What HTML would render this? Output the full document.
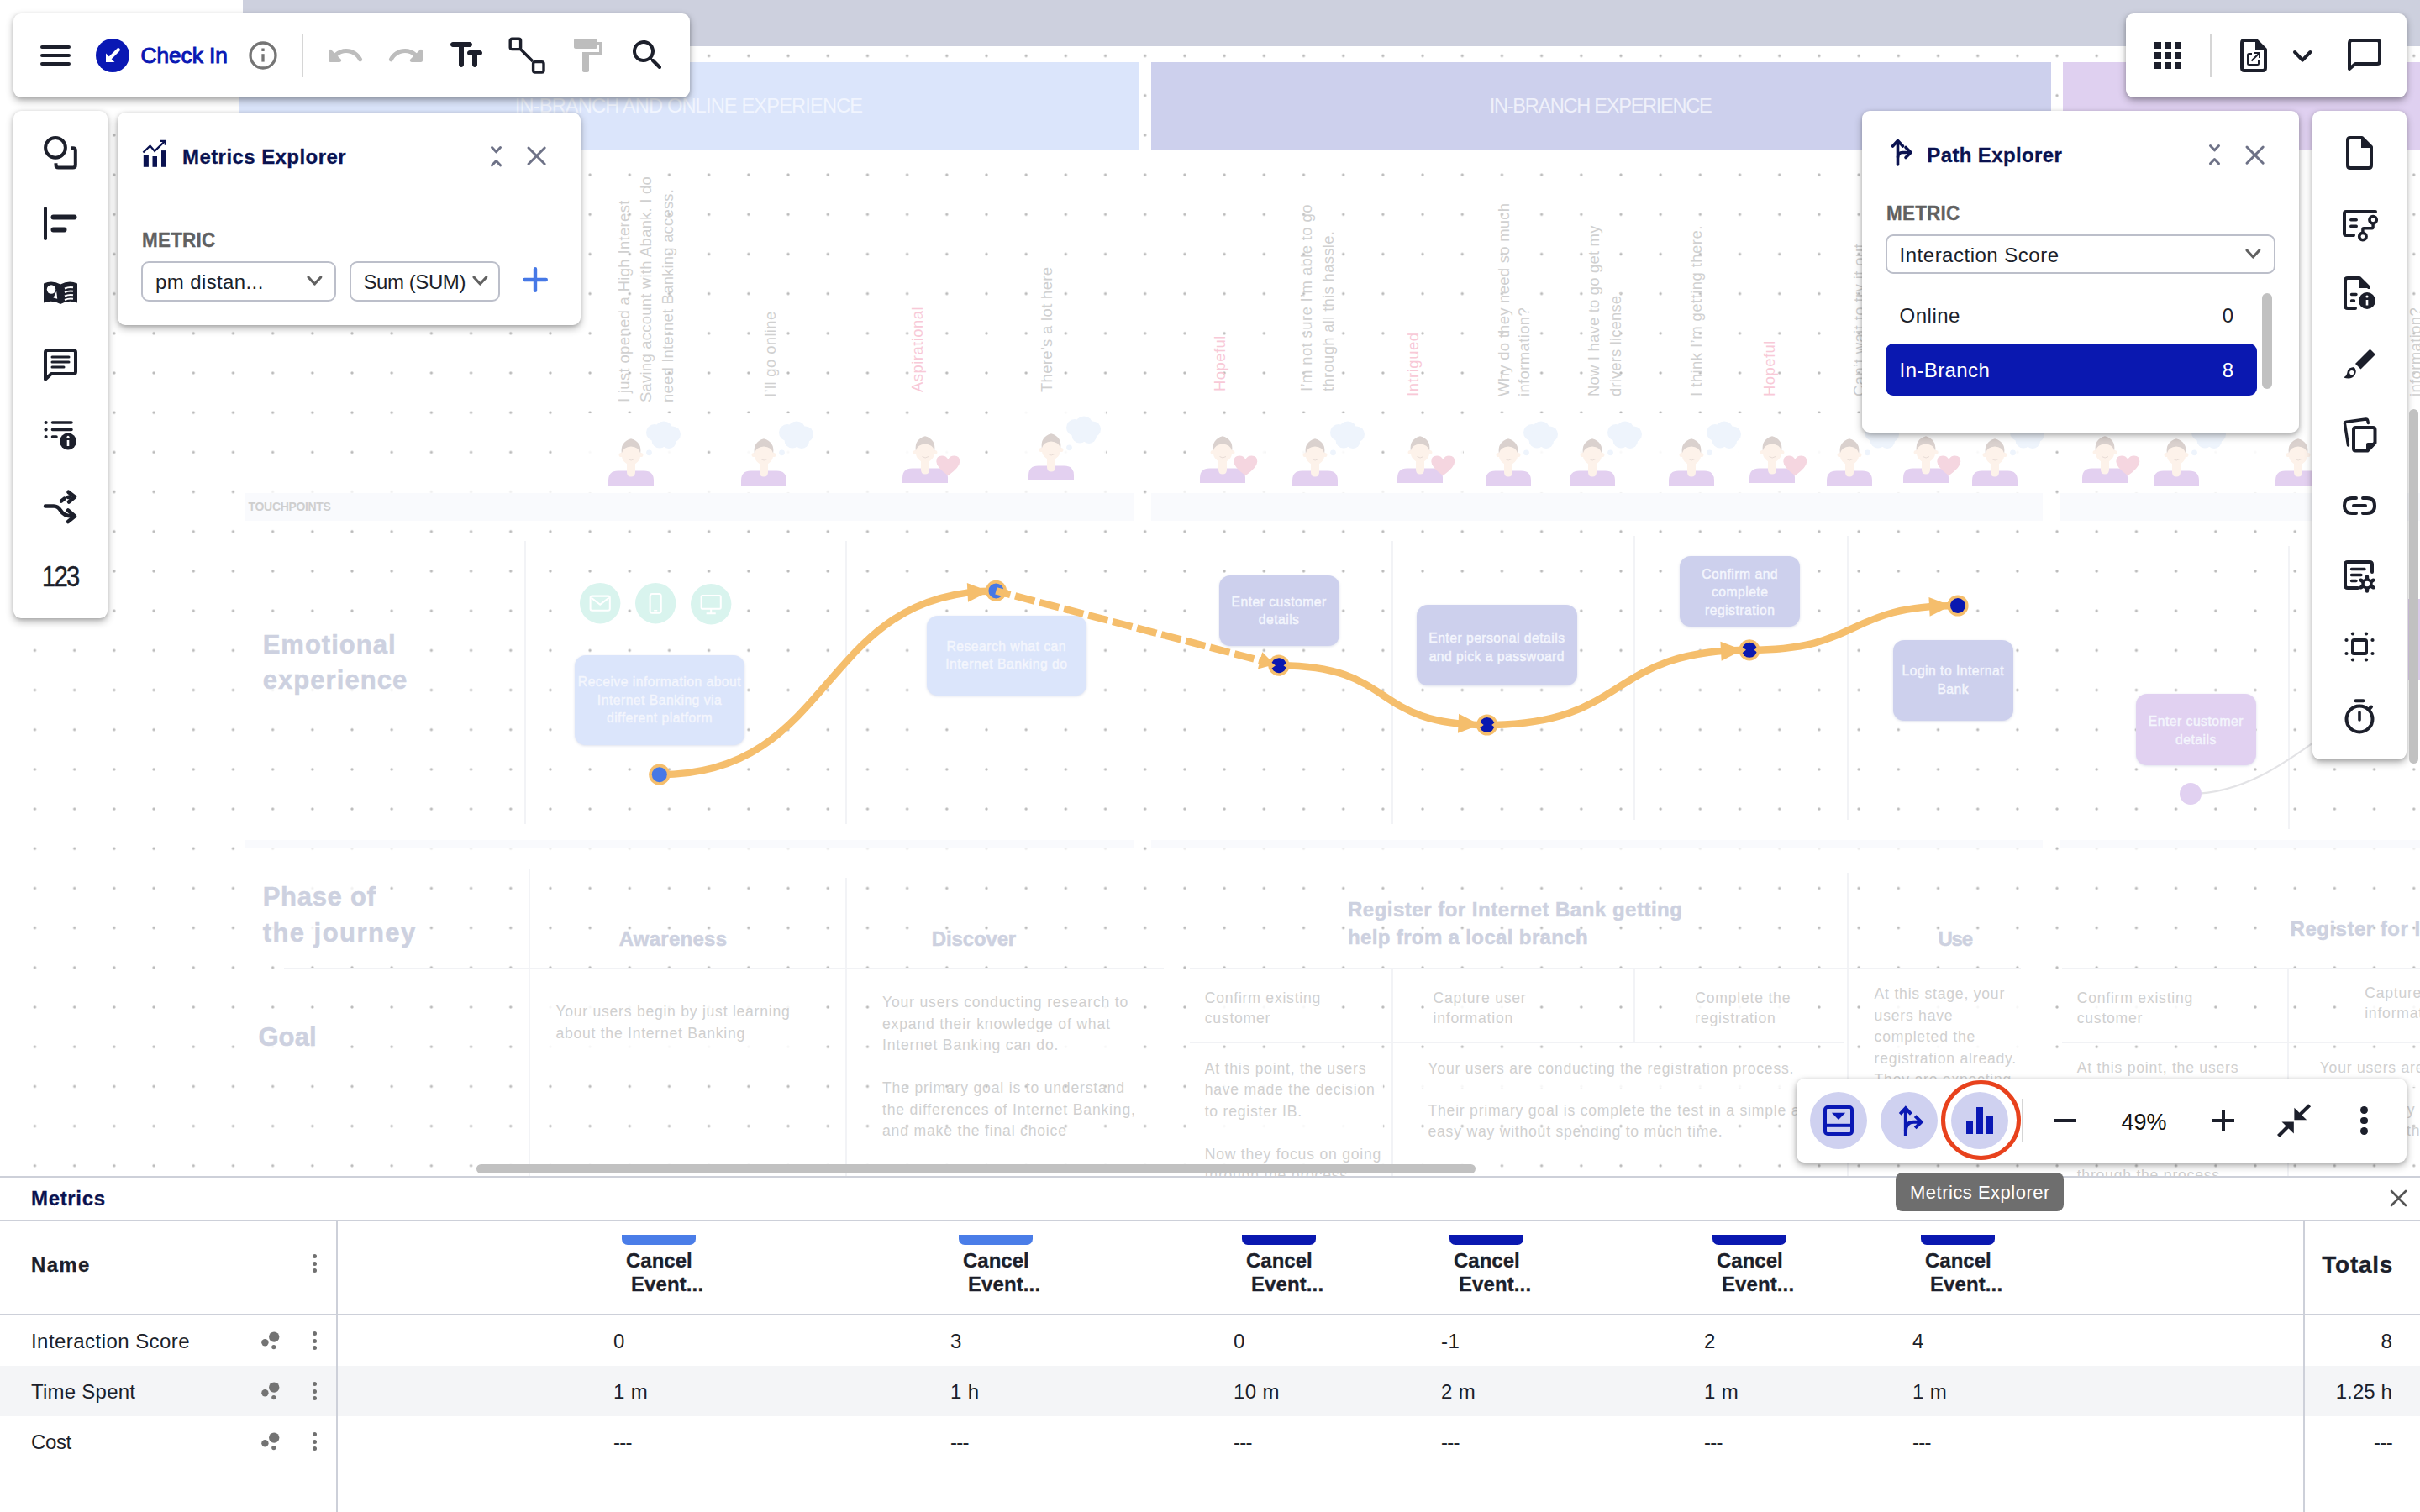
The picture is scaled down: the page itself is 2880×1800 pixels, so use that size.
<!DOCTYPE html><html lang="en"><head><meta charset="utf-8"><title>Journey Model</title><style>

*{box-sizing:border-box}
html,body{margin:0;padding:0}
@media (max-width:2000px){html{zoom:.5}}
body{width:2880px;height:1800px;overflow:hidden;background:#fff;position:relative;
 font-family:"Liberation Sans",sans-serif;color:#1c1f2b;-webkit-font-smoothing:antialiased}
.abs{position:absolute}
#canvas{position:absolute;left:0;top:0;width:2880px;height:1401px;overflow:hidden;background-color:#fff;
 background-image:radial-gradient(circle,#b9b9b9 0,#bcbcbc 1px,rgba(190,190,190,0) 2.2px);
 background-size:47.2px 47.2px;background-position:17.9px -4.25px}
.card{position:absolute;background:#fff;border-radius:9px;box-shadow:0 4px 10px rgba(0,0,0,.3),0 1px 4px rgba(0,0,0,.14)}
.t{position:absolute;white-space:nowrap;line-height:1}
.b{font-weight:700;-webkit-text-stroke:.3px currentColor}
svg{position:absolute;overflow:visible}
.sel{position:absolute;border:2px solid #bcbfca;border-radius:9px;background:#fff}
.cv{position:absolute;white-space:nowrap;line-height:1;color:#d9d9d9}
.box{position:absolute;border-radius:13px;color:#fff;text-align:center;font-weight:400;-webkit-text-stroke:.45px #f4f6fd;font-size:15.5px;line-height:22px;
 display:flex;align-items:center;justify-content:center;box-shadow:0 1px 3px rgba(120,130,180,.25)}
.vl{position:absolute;width:2px;background:#f2f3f6}
.hl{position:absolute;height:2px;background:#f1f2f5}
.big{position:absolute;font-weight:700;-webkit-text-stroke:.5px #cdd1e0;color:#cdd1e0;white-space:nowrap;line-height:1}
.para{position:absolute;color:#d0d0d0;font-size:16.5px;line-height:25.5px;white-space:nowrap}
.rot{position:absolute;transform-origin:0 0;transform:rotate(-90deg);white-space:nowrap;font-size:19.5px;line-height:26px;color:#d0d0d0}

</style></head><body>
<div id="canvas">
<div class="abs" style="left:289px;top:0;width:2600px;height:55px;background:#cdd0de"></div>
<div class="abs" style="left:285px;top:74px;width:1071px;height:104px;background:#dbe5fb"></div>
<div class="abs" style="left:1370px;top:74px;width:1071px;height:104px;background:#cdd0ed"></div>
<div class="abs" style="left:2455px;top:74px;width:500px;height:104px;background:#dfd0f0"></div>
<div class="abs" style="left:291px;top:587px;width:1059px;height:33px;background:#f9fafd"></div>
<div class="abs" style="left:291px;top:1000px;width:1059px;height:9px;background:#f9fafd"></div>
<div class="abs" style="left:291px;top:580px;width:1059px;height:7px;background:rgba(255,255,255,.78)"></div>
<div class="abs" style="left:291px;top:1009px;width:1059px;height:5px;background:rgba(255,255,255,.72)"></div>
<div class="abs" style="left:1370px;top:587px;width:1061px;height:33px;background:#f9fafd"></div>
<div class="abs" style="left:1370px;top:1000px;width:1061px;height:9px;background:#f9fafd"></div>
<div class="abs" style="left:1370px;top:580px;width:1061px;height:7px;background:rgba(255,255,255,.78)"></div>
<div class="abs" style="left:1370px;top:1009px;width:1061px;height:5px;background:rgba(255,255,255,.72)"></div>
<div class="abs" style="left:2451px;top:587px;width:500px;height:33px;background:#f9fafd"></div>
<div class="abs" style="left:2451px;top:1000px;width:500px;height:9px;background:#f9fafd"></div>
<div class="abs" style="left:2451px;top:580px;width:500px;height:7px;background:rgba(255,255,255,.78)"></div>
<div class="abs" style="left:2451px;top:1009px;width:500px;height:5px;background:rgba(255,255,255,.72)"></div>
<div id="c1" class="cv" style="left:295.6px;top:596.0px;font-size:14px;letter-spacing:-0.33px;font-weight:700;color:#cfcfcf">TOUCHPOINTS</div>
<div id="c2" class="cv" style="left:612.8px;top:114.9px;font-size:23.6px;letter-spacing:-0.83px;color:#f1f5fe">IN-BRANCH AND ONLINE EXPERIENCE</div>
<div id="c3" class="cv" style="left:1772.7px;top:114.9px;font-size:23.6px;letter-spacing:-1.30px;color:#eff0fa">IN-BRANCH EXPERIENCE</div>
<div id="c4" class="rot" style="left:730.3px;top:478.5px;font-size:18.5px;line-height:26px;letter-spacing:0.32px;">I just opened a High Interest</div>
<div id="c5" class="rot" style="left:756.3px;top:478.5px;font-size:18.5px;line-height:26px;letter-spacing:0.22px;">Saving account with Abank. I do</div>
<div id="c6" class="rot" style="left:782.3px;top:478.5px;font-size:18.5px;line-height:26px;letter-spacing:0.18px;">need Internet Banking access.</div>
<div id="c7" class="rot" style="left:904.4px;top:473px;font-size:18.5px;line-height:26px;letter-spacing:0.35px;">I’ll go online</div>
<div id="c8" class="rot" style="left:1079.4px;top:467px;font-size:18.5px;line-height:26px;letter-spacing:0.45px;color:#f8c9d7;">Aspirational</div>
<div id="c9" class="rot" style="left:1233.3px;top:467px;font-size:18.5px;line-height:26px;letter-spacing:0.32px;">There’s a lot here</div>
<div id="c10" class="rot" style="left:1439.2px;top:466.3px;font-size:18.5px;line-height:26px;letter-spacing:0.45px;color:#f8c9d7;">Hopeful</div>
<div id="c11" class="rot" style="left:1541.8px;top:466px;font-size:18.5px;line-height:26px;letter-spacing:0.37px;">I’m not sure I’m able to go</div>
<div id="c12" class="rot" style="left:1567.8px;top:466px;font-size:18.5px;line-height:26px;letter-spacing:0.30px;">through all this hassle.</div>
<div id="c13" class="rot" style="left:1668.8px;top:472px;font-size:18.5px;line-height:26px;letter-spacing:0.50px;color:#f8c9d7;">Intrigued</div>
<div id="c14" class="rot" style="left:1777.5px;top:472px;font-size:18.5px;line-height:24.5px;letter-spacing:0.26px;">Why do they need so much</div>
<div id="c15" class="rot" style="left:1802.0px;top:472px;font-size:18.5px;line-height:24.5px;letter-spacing:0.36px;">information?</div>
<div id="c16" class="rot" style="left:1883.8px;top:472px;font-size:18.5px;line-height:26px;letter-spacing:0.18px;">Now I have to go get my</div>
<div id="c17" class="rot" style="left:1909.8px;top:472px;font-size:18.5px;line-height:26px;letter-spacing:0.13px;">drivers license,</div>
<div id="c18" class="rot" style="left:2005.8px;top:472px;font-size:18.5px;line-height:26px;letter-spacing:0.44px;">I think I’m getting there.</div>
<div id="c19" class="rot" style="left:2092.8px;top:472px;font-size:18.5px;line-height:26px;letter-spacing:0.42px;color:#f8c9d7;">Hopeful</div>
<div id="c20" class="rot" style="left:2199.5px;top:472px;font-size:18.5px;line-height:26px;letter-spacing:0.39px;">Can’t wait to try it out</div>
<div id="c21" class="rot" style="left:2862.3px;top:472px;font-size:18.5px;line-height:26px;letter-spacing:0.36px;">information?</div>
<div class="abs" style="left:697.7px;top:491.5px;width:118px;height:94px;background:rgba(255,255,255,.9)"></div>
<div class="abs" style="left:856px;top:491.5px;width:118px;height:94px;background:rgba(255,255,255,.9)"></div>
<div class="abs" style="left:1061.7px;top:497.29999999999995px;width:90px;height:88px;background:rgba(255,255,255,.9)"></div>
<div class="abs" style="left:1198px;top:485.9px;width:118px;height:94px;background:rgba(255,255,255,.9)"></div>
<div class="abs" style="left:1415.6px;top:497.29999999999995px;width:90px;height:88px;background:rgba(255,255,255,.9)"></div>
<div class="abs" style="left:1511.7px;top:491.5px;width:118px;height:94px;background:rgba(255,255,255,.9)"></div>
<div class="abs" style="left:1651px;top:497.29999999999995px;width:90px;height:88px;background:rgba(255,255,255,.9)"></div>
<div class="abs" style="left:1741.5px;top:491.5px;width:118px;height:94px;background:rgba(255,255,255,.9)"></div>
<div class="abs" style="left:1841.5px;top:491.5px;width:118px;height:94px;background:rgba(255,255,255,.9)"></div>
<div class="abs" style="left:1959.7px;top:491.5px;width:118px;height:94px;background:rgba(255,255,255,.9)"></div>
<div class="abs" style="left:2070px;top:497.29999999999995px;width:90px;height:88px;background:rgba(255,255,255,.9)"></div>
<div class="abs" style="left:2148px;top:491.5px;width:118px;height:94px;background:rgba(255,255,255,.9)"></div>
<div class="abs" style="left:2253px;top:497.29999999999995px;width:90px;height:88px;background:rgba(255,255,255,.9)"></div>
<div class="abs" style="left:2320.6px;top:491.5px;width:118px;height:94px;background:rgba(255,255,255,.9)"></div>
<div class="abs" style="left:2465.5px;top:497.29999999999995px;width:90px;height:88px;background:rgba(255,255,255,.9)"></div>
<div class="abs" style="left:2536.9px;top:491.5px;width:118px;height:94px;background:rgba(255,255,255,.9)"></div>
<div class="abs" style="left:2681.7px;top:491.5px;width:118px;height:94px;background:rgba(255,255,255,.9)"></div>
<svg style="left:723.7px;top:521.5px" width="54" height="56" viewBox="0 0 54 56"><path d="M0 56V50Q0 38.5 11.5 38.5H42.5Q54 38.5 54 50V56Z" fill="#e3d0f0"/><path d="M22 24H32V40Q32 45.5 27 45.5Q22 45.5 22 40Z" fill="#fdf2ea"/><circle cx="15.2" cy="19.5" r="2.6" fill="#fdf2ea"/><circle cx="38.8" cy="19.5" r="2.6" fill="#fdf2ea"/><ellipse cx="27" cy="19" rx="11.3" ry="12.5" fill="#fdf2ea"/><path d="M15.8 17.5Q14 4 27 .3Q40 4 38.2 17.5Q36 10 27 9.5Q18 10 15.8 17.5Z" fill="#dad1ce"/><path d="M23.5 24.5Q27 27.5 31 24.5" fill="none" stroke="#e8dcd6" stroke-width="1"/><g fill="#eef4fc"><circle cx="55" cy="-7" r="10"/><circle cx="66" cy="-10" r="10.5"/><circle cx="76.5" cy="-5" r="9.500"/><circle cx="61" cy="2" r="9.5"/><circle cx="72" cy="3" r="9"/><circle cx="48.500" cy="16.8" r="3.4"/></g></svg>
<svg style="left:882px;top:521.5px" width="54" height="56" viewBox="0 0 54 56"><path d="M0 56V50Q0 38.5 11.5 38.5H42.5Q54 38.5 54 50V56Z" fill="#e3d0f0"/><path d="M22 24H32V40Q32 45.5 27 45.5Q22 45.5 22 40Z" fill="#fdf2ea"/><circle cx="15.2" cy="19.5" r="2.6" fill="#fdf2ea"/><circle cx="38.8" cy="19.5" r="2.6" fill="#fdf2ea"/><ellipse cx="27" cy="19" rx="11.3" ry="12.5" fill="#fdf2ea"/><path d="M15.8 17.5Q14 4 27 .3Q40 4 38.2 17.5Q36 10 27 9.5Q18 10 15.8 17.5Z" fill="#dad1ce"/><path d="M23.5 24.5Q27 27.5 31 24.5" fill="none" stroke="#e8dcd6" stroke-width="1"/><g fill="#eef4fc"><circle cx="55" cy="-7" r="10"/><circle cx="66" cy="-10" r="10.5"/><circle cx="76.5" cy="-5" r="9.500"/><circle cx="61" cy="2" r="9.5"/><circle cx="72" cy="3" r="9"/><circle cx="48.500" cy="16.8" r="3.4"/></g></svg>
<svg style="left:1073.7px;top:519.3px" width="54" height="56" viewBox="0 0 54 56"><path d="M0 56V50Q0 38.5 11.5 38.5H42.5Q54 38.5 54 50V56Z" fill="#e3d0f0"/><path d="M22 24H32V40Q32 45.5 27 45.5Q22 45.5 22 40Z" fill="#fdf2ea"/><circle cx="15.2" cy="19.5" r="2.6" fill="#fdf2ea"/><circle cx="38.8" cy="19.5" r="2.6" fill="#fdf2ea"/><ellipse cx="27" cy="19" rx="11.3" ry="12.5" fill="#fdf2ea"/><path d="M15.8 17.5Q14 4 27 .3Q40 4 38.2 17.5Q36 10 27 9.5Q18 10 15.8 17.5Z" fill="#dad1ce"/><path d="M23.5 24.5Q27 27.5 31 24.5" fill="none" stroke="#e8dcd6" stroke-width="1"/><path d="M54.3 46.5Q40.3 36.5 40.3 29.5Q40.3 22.600 47 22.6Q52 22.6 54.3 27Q56.600 22.6 61.6 22.6Q68.300 22.6 68.3 29.500Q68.3 36.5 54.3 46.500Z" fill="#f5d6e0" transform="translate(0 .8)"/></svg>
<svg style="left:1224px;top:515.9px" width="54" height="56" viewBox="0 0 54 56"><path d="M0 56V50Q0 38.5 11.5 38.5H42.5Q54 38.5 54 50V56Z" fill="#e3d0f0"/><path d="M22 24H32V40Q32 45.5 27 45.5Q22 45.5 22 40Z" fill="#fdf2ea"/><circle cx="15.2" cy="19.5" r="2.6" fill="#fdf2ea"/><circle cx="38.8" cy="19.5" r="2.6" fill="#fdf2ea"/><ellipse cx="27" cy="19" rx="11.3" ry="12.5" fill="#fdf2ea"/><path d="M15.8 17.5Q14 4 27 .3Q40 4 38.2 17.5Q36 10 27 9.5Q18 10 15.8 17.5Z" fill="#dad1ce"/><path d="M23.5 24.5Q27 27.5 31 24.5" fill="none" stroke="#e8dcd6" stroke-width="1"/><g fill="#eef4fc"><circle cx="55" cy="-7" r="10"/><circle cx="66" cy="-10" r="10.5"/><circle cx="76.5" cy="-5" r="9.500"/><circle cx="61" cy="2" r="9.5"/><circle cx="72" cy="3" r="9"/><circle cx="48.500" cy="16.8" r="3.4"/></g></svg>
<svg style="left:1427.6px;top:519.3px" width="54" height="56" viewBox="0 0 54 56"><path d="M0 56V50Q0 38.5 11.5 38.5H42.5Q54 38.5 54 50V56Z" fill="#e3d0f0"/><path d="M22 24H32V40Q32 45.5 27 45.5Q22 45.5 22 40Z" fill="#fdf2ea"/><circle cx="15.2" cy="19.5" r="2.6" fill="#fdf2ea"/><circle cx="38.8" cy="19.5" r="2.6" fill="#fdf2ea"/><ellipse cx="27" cy="19" rx="11.3" ry="12.5" fill="#fdf2ea"/><path d="M15.8 17.5Q14 4 27 .3Q40 4 38.2 17.5Q36 10 27 9.5Q18 10 15.8 17.5Z" fill="#dad1ce"/><path d="M23.5 24.5Q27 27.5 31 24.5" fill="none" stroke="#e8dcd6" stroke-width="1"/><path d="M54.3 46.5Q40.3 36.5 40.3 29.5Q40.3 22.600 47 22.6Q52 22.6 54.3 27Q56.600 22.6 61.6 22.6Q68.300 22.6 68.3 29.500Q68.3 36.5 54.3 46.500Z" fill="#f5d6e0" transform="translate(0 .8)"/></svg>
<svg style="left:1537.7px;top:521.5px" width="54" height="56" viewBox="0 0 54 56"><path d="M0 56V50Q0 38.5 11.5 38.5H42.5Q54 38.5 54 50V56Z" fill="#e3d0f0"/><path d="M22 24H32V40Q32 45.5 27 45.5Q22 45.5 22 40Z" fill="#fdf2ea"/><circle cx="15.2" cy="19.5" r="2.6" fill="#fdf2ea"/><circle cx="38.8" cy="19.5" r="2.6" fill="#fdf2ea"/><ellipse cx="27" cy="19" rx="11.3" ry="12.5" fill="#fdf2ea"/><path d="M15.8 17.5Q14 4 27 .3Q40 4 38.2 17.5Q36 10 27 9.5Q18 10 15.8 17.5Z" fill="#dad1ce"/><path d="M23.5 24.5Q27 27.5 31 24.5" fill="none" stroke="#e8dcd6" stroke-width="1"/><g fill="#eef4fc"><circle cx="55" cy="-7" r="10"/><circle cx="66" cy="-10" r="10.5"/><circle cx="76.5" cy="-5" r="9.500"/><circle cx="61" cy="2" r="9.5"/><circle cx="72" cy="3" r="9"/><circle cx="48.500" cy="16.8" r="3.4"/></g></svg>
<svg style="left:1663px;top:519.3px" width="54" height="56" viewBox="0 0 54 56"><path d="M0 56V50Q0 38.5 11.5 38.5H42.5Q54 38.5 54 50V56Z" fill="#e3d0f0"/><path d="M22 24H32V40Q32 45.5 27 45.5Q22 45.5 22 40Z" fill="#fdf2ea"/><circle cx="15.2" cy="19.5" r="2.6" fill="#fdf2ea"/><circle cx="38.8" cy="19.5" r="2.6" fill="#fdf2ea"/><ellipse cx="27" cy="19" rx="11.3" ry="12.5" fill="#fdf2ea"/><path d="M15.8 17.5Q14 4 27 .3Q40 4 38.2 17.5Q36 10 27 9.5Q18 10 15.8 17.5Z" fill="#dad1ce"/><path d="M23.5 24.5Q27 27.5 31 24.5" fill="none" stroke="#e8dcd6" stroke-width="1"/><path d="M54.3 46.5Q40.3 36.5 40.3 29.5Q40.3 22.600 47 22.6Q52 22.6 54.3 27Q56.600 22.6 61.6 22.6Q68.300 22.6 68.3 29.500Q68.3 36.5 54.3 46.500Z" fill="#f5d6e0" transform="translate(0 .8)"/></svg>
<svg style="left:1767.5px;top:521.5px" width="54" height="56" viewBox="0 0 54 56"><path d="M0 56V50Q0 38.5 11.5 38.5H42.5Q54 38.5 54 50V56Z" fill="#e3d0f0"/><path d="M22 24H32V40Q32 45.5 27 45.5Q22 45.5 22 40Z" fill="#fdf2ea"/><circle cx="15.2" cy="19.5" r="2.6" fill="#fdf2ea"/><circle cx="38.8" cy="19.5" r="2.6" fill="#fdf2ea"/><ellipse cx="27" cy="19" rx="11.3" ry="12.5" fill="#fdf2ea"/><path d="M15.8 17.5Q14 4 27 .3Q40 4 38.2 17.5Q36 10 27 9.5Q18 10 15.8 17.5Z" fill="#dad1ce"/><path d="M23.5 24.5Q27 27.5 31 24.5" fill="none" stroke="#e8dcd6" stroke-width="1"/><g fill="#eef4fc"><circle cx="55" cy="-7" r="10"/><circle cx="66" cy="-10" r="10.5"/><circle cx="76.5" cy="-5" r="9.500"/><circle cx="61" cy="2" r="9.5"/><circle cx="72" cy="3" r="9"/><circle cx="48.500" cy="16.8" r="3.4"/></g></svg>
<svg style="left:1867.5px;top:521.5px" width="54" height="56" viewBox="0 0 54 56"><path d="M0 56V50Q0 38.5 11.5 38.5H42.5Q54 38.5 54 50V56Z" fill="#e3d0f0"/><path d="M22 24H32V40Q32 45.5 27 45.5Q22 45.5 22 40Z" fill="#fdf2ea"/><circle cx="15.2" cy="19.5" r="2.6" fill="#fdf2ea"/><circle cx="38.8" cy="19.5" r="2.6" fill="#fdf2ea"/><ellipse cx="27" cy="19" rx="11.3" ry="12.5" fill="#fdf2ea"/><path d="M15.8 17.5Q14 4 27 .3Q40 4 38.2 17.5Q36 10 27 9.5Q18 10 15.8 17.5Z" fill="#dad1ce"/><path d="M23.5 24.5Q27 27.5 31 24.5" fill="none" stroke="#e8dcd6" stroke-width="1"/><g fill="#eef4fc"><circle cx="55" cy="-7" r="10"/><circle cx="66" cy="-10" r="10.5"/><circle cx="76.5" cy="-5" r="9.500"/><circle cx="61" cy="2" r="9.5"/><circle cx="72" cy="3" r="9"/><circle cx="48.500" cy="16.8" r="3.4"/></g></svg>
<svg style="left:1985.7px;top:521.5px" width="54" height="56" viewBox="0 0 54 56"><path d="M0 56V50Q0 38.5 11.5 38.5H42.5Q54 38.5 54 50V56Z" fill="#e3d0f0"/><path d="M22 24H32V40Q32 45.5 27 45.5Q22 45.5 22 40Z" fill="#fdf2ea"/><circle cx="15.2" cy="19.5" r="2.6" fill="#fdf2ea"/><circle cx="38.8" cy="19.5" r="2.6" fill="#fdf2ea"/><ellipse cx="27" cy="19" rx="11.3" ry="12.5" fill="#fdf2ea"/><path d="M15.8 17.5Q14 4 27 .3Q40 4 38.2 17.5Q36 10 27 9.5Q18 10 15.8 17.5Z" fill="#dad1ce"/><path d="M23.5 24.5Q27 27.5 31 24.5" fill="none" stroke="#e8dcd6" stroke-width="1"/><g fill="#eef4fc"><circle cx="55" cy="-7" r="10"/><circle cx="66" cy="-10" r="10.5"/><circle cx="76.5" cy="-5" r="9.500"/><circle cx="61" cy="2" r="9.5"/><circle cx="72" cy="3" r="9"/><circle cx="48.500" cy="16.8" r="3.4"/></g></svg>
<svg style="left:2082px;top:519.3px" width="54" height="56" viewBox="0 0 54 56"><path d="M0 56V50Q0 38.5 11.5 38.5H42.5Q54 38.5 54 50V56Z" fill="#e3d0f0"/><path d="M22 24H32V40Q32 45.5 27 45.5Q22 45.5 22 40Z" fill="#fdf2ea"/><circle cx="15.2" cy="19.5" r="2.6" fill="#fdf2ea"/><circle cx="38.8" cy="19.5" r="2.6" fill="#fdf2ea"/><ellipse cx="27" cy="19" rx="11.3" ry="12.5" fill="#fdf2ea"/><path d="M15.8 17.5Q14 4 27 .3Q40 4 38.2 17.5Q36 10 27 9.5Q18 10 15.8 17.5Z" fill="#dad1ce"/><path d="M23.5 24.5Q27 27.5 31 24.5" fill="none" stroke="#e8dcd6" stroke-width="1"/><path d="M54.3 46.5Q40.3 36.5 40.3 29.5Q40.3 22.600 47 22.6Q52 22.6 54.3 27Q56.600 22.6 61.6 22.6Q68.300 22.6 68.3 29.500Q68.3 36.5 54.3 46.500Z" fill="#f5d6e0" transform="translate(0 .8)"/></svg>
<svg style="left:2174px;top:521.5px" width="54" height="56" viewBox="0 0 54 56"><path d="M0 56V50Q0 38.5 11.5 38.5H42.5Q54 38.5 54 50V56Z" fill="#e3d0f0"/><path d="M22 24H32V40Q32 45.5 27 45.5Q22 45.5 22 40Z" fill="#fdf2ea"/><circle cx="15.2" cy="19.5" r="2.6" fill="#fdf2ea"/><circle cx="38.8" cy="19.5" r="2.6" fill="#fdf2ea"/><ellipse cx="27" cy="19" rx="11.3" ry="12.5" fill="#fdf2ea"/><path d="M15.8 17.5Q14 4 27 .3Q40 4 38.2 17.5Q36 10 27 9.5Q18 10 15.8 17.5Z" fill="#dad1ce"/><path d="M23.5 24.5Q27 27.5 31 24.5" fill="none" stroke="#e8dcd6" stroke-width="1"/><g fill="#eef4fc"><circle cx="55" cy="-7" r="10"/><circle cx="66" cy="-10" r="10.5"/><circle cx="76.5" cy="-5" r="9.500"/><circle cx="61" cy="2" r="9.5"/><circle cx="72" cy="3" r="9"/><circle cx="48.500" cy="16.8" r="3.4"/></g></svg>
<svg style="left:2265px;top:519.3px" width="54" height="56" viewBox="0 0 54 56"><path d="M0 56V50Q0 38.5 11.5 38.5H42.5Q54 38.5 54 50V56Z" fill="#e3d0f0"/><path d="M22 24H32V40Q32 45.5 27 45.5Q22 45.5 22 40Z" fill="#fdf2ea"/><circle cx="15.2" cy="19.5" r="2.6" fill="#fdf2ea"/><circle cx="38.8" cy="19.5" r="2.6" fill="#fdf2ea"/><ellipse cx="27" cy="19" rx="11.3" ry="12.5" fill="#fdf2ea"/><path d="M15.8 17.5Q14 4 27 .3Q40 4 38.2 17.5Q36 10 27 9.5Q18 10 15.8 17.5Z" fill="#dad1ce"/><path d="M23.5 24.5Q27 27.5 31 24.5" fill="none" stroke="#e8dcd6" stroke-width="1"/><path d="M54.3 46.5Q40.3 36.5 40.3 29.5Q40.3 22.600 47 22.6Q52 22.6 54.3 27Q56.600 22.6 61.6 22.6Q68.300 22.6 68.3 29.500Q68.3 36.5 54.3 46.500Z" fill="#f5d6e0" transform="translate(0 .8)"/></svg>
<svg style="left:2346.6px;top:521.5px" width="54" height="56" viewBox="0 0 54 56"><path d="M0 56V50Q0 38.5 11.5 38.5H42.5Q54 38.5 54 50V56Z" fill="#e3d0f0"/><path d="M22 24H32V40Q32 45.5 27 45.5Q22 45.5 22 40Z" fill="#fdf2ea"/><circle cx="15.2" cy="19.5" r="2.6" fill="#fdf2ea"/><circle cx="38.8" cy="19.5" r="2.6" fill="#fdf2ea"/><ellipse cx="27" cy="19" rx="11.3" ry="12.5" fill="#fdf2ea"/><path d="M15.8 17.5Q14 4 27 .3Q40 4 38.2 17.5Q36 10 27 9.5Q18 10 15.8 17.5Z" fill="#dad1ce"/><path d="M23.5 24.5Q27 27.5 31 24.5" fill="none" stroke="#e8dcd6" stroke-width="1"/><g fill="#eef4fc"><circle cx="55" cy="-7" r="10"/><circle cx="66" cy="-10" r="10.5"/><circle cx="76.5" cy="-5" r="9.500"/><circle cx="61" cy="2" r="9.5"/><circle cx="72" cy="3" r="9"/><circle cx="48.500" cy="16.8" r="3.4"/></g></svg>
<svg style="left:2477.5px;top:519.3px" width="54" height="56" viewBox="0 0 54 56"><path d="M0 56V50Q0 38.5 11.5 38.5H42.5Q54 38.5 54 50V56Z" fill="#e3d0f0"/><path d="M22 24H32V40Q32 45.5 27 45.5Q22 45.5 22 40Z" fill="#fdf2ea"/><circle cx="15.2" cy="19.5" r="2.6" fill="#fdf2ea"/><circle cx="38.8" cy="19.5" r="2.6" fill="#fdf2ea"/><ellipse cx="27" cy="19" rx="11.3" ry="12.5" fill="#fdf2ea"/><path d="M15.8 17.5Q14 4 27 .3Q40 4 38.2 17.5Q36 10 27 9.5Q18 10 15.8 17.5Z" fill="#dad1ce"/><path d="M23.5 24.5Q27 27.5 31 24.5" fill="none" stroke="#e8dcd6" stroke-width="1"/><path d="M54.3 46.5Q40.3 36.5 40.3 29.5Q40.3 22.600 47 22.6Q52 22.6 54.3 27Q56.600 22.6 61.6 22.6Q68.300 22.6 68.3 29.500Q68.3 36.5 54.3 46.500Z" fill="#f5d6e0" transform="translate(0 .8)"/></svg>
<svg style="left:2562.9px;top:521.5px" width="54" height="56" viewBox="0 0 54 56"><path d="M0 56V50Q0 38.5 11.5 38.5H42.5Q54 38.5 54 50V56Z" fill="#e3d0f0"/><path d="M22 24H32V40Q32 45.5 27 45.5Q22 45.5 22 40Z" fill="#fdf2ea"/><circle cx="15.2" cy="19.5" r="2.6" fill="#fdf2ea"/><circle cx="38.8" cy="19.5" r="2.6" fill="#fdf2ea"/><ellipse cx="27" cy="19" rx="11.3" ry="12.5" fill="#fdf2ea"/><path d="M15.8 17.5Q14 4 27 .3Q40 4 38.2 17.5Q36 10 27 9.5Q18 10 15.8 17.5Z" fill="#dad1ce"/><path d="M23.5 24.5Q27 27.5 31 24.5" fill="none" stroke="#e8dcd6" stroke-width="1"/><g fill="#eef4fc"><circle cx="55" cy="-7" r="10"/><circle cx="66" cy="-10" r="10.5"/><circle cx="76.5" cy="-5" r="9.500"/><circle cx="61" cy="2" r="9.5"/><circle cx="72" cy="3" r="9"/><circle cx="48.500" cy="16.8" r="3.4"/></g></svg>
<svg style="left:2707.7px;top:521.5px" width="54" height="56" viewBox="0 0 54 56"><path d="M0 56V50Q0 38.5 11.5 38.5H42.5Q54 38.5 54 50V56Z" fill="#e3d0f0"/><path d="M22 24H32V40Q32 45.5 27 45.5Q22 45.5 22 40Z" fill="#fdf2ea"/><circle cx="15.2" cy="19.5" r="2.6" fill="#fdf2ea"/><circle cx="38.8" cy="19.5" r="2.6" fill="#fdf2ea"/><ellipse cx="27" cy="19" rx="11.3" ry="12.5" fill="#fdf2ea"/><path d="M15.8 17.5Q14 4 27 .3Q40 4 38.2 17.5Q36 10 27 9.5Q18 10 15.8 17.5Z" fill="#dad1ce"/><path d="M23.5 24.5Q27 27.5 31 24.5" fill="none" stroke="#e8dcd6" stroke-width="1"/><g fill="#eef4fc"><circle cx="55" cy="-7" r="10"/><circle cx="66" cy="-10" r="10.5"/><circle cx="76.5" cy="-5" r="9.500"/><circle cx="61" cy="2" r="9.5"/><circle cx="72" cy="3" r="9"/><circle cx="48.500" cy="16.8" r="3.4"/></g></svg>
<div class="vl" style="left:624px;top:644px;height:337px"></div>
<div class="vl" style="left:1006px;top:644px;height:337px"></div>
<div class="vl" style="left:1656px;top:644px;height:337px"></div>
<div class="vl" style="left:1944px;top:638px;height:338px"></div>
<div class="vl" style="left:2198px;top:638px;height:338px"></div>
<div class="vl" style="left:2723px;top:650px;height:337px"></div>
<div class="vl" style="left:629px;top:1034px;height:367px"></div>
<div class="vl" style="left:1006px;top:1045px;height:356px"></div>
<div class="vl" style="left:2198px;top:1039px;height:362px"></div>
<div class="vl" style="left:1656px;top:1153px;height:248px"></div>
<div class="vl" style="left:1944px;top:1153px;height:88px"></div>
<div class="vl" style="left:2722px;top:1153px;height:248px"></div>
<div class="hl" style="left:338px;top:1152px;width:1047px"></div>
<div class="hl" style="left:1416px;top:1152px;width:989px"></div>
<div class="hl" style="left:2454px;top:1152px;width:426px"></div>
<div class="hl" style="left:1416px;top:1240px;width:778px"></div>
<div class="hl" style="left:2454px;top:1240px;width:426px"></div>
<div id="c22" class="big" style="left:312.7px;top:751.5px;font-size:31px;letter-spacing:1.00px;background:rgba(255,255,255,.8);box-shadow:0 0 0 6px rgba(255,255,255,.8)">Emotional</div>
<div id="c23" class="big" style="left:312.7px;top:794.1px;font-size:31px;letter-spacing:1.06px;background:rgba(255,255,255,.8);box-shadow:0 0 0 6px rgba(255,255,255,.8)">experience</div>
<div id="c24" class="big" style="left:312.7px;top:1051.8px;font-size:31px;letter-spacing:0.71px;background:rgba(255,255,255,.8);box-shadow:0 0 0 6px rgba(255,255,255,.8)">Phase of</div>
<div id="c25" class="big" style="left:312.7px;top:1095.2px;font-size:31px;letter-spacing:1.45px;background:rgba(255,255,255,.8);box-shadow:0 0 0 6px rgba(255,255,255,.8)">the journey</div>
<div id="c26" class="big" style="left:307.4px;top:1219.3px;font-size:31px;letter-spacing:0.10px;background:rgba(255,255,255,.88);box-shadow:0 0 0 12px rgba(255,255,255,.88)">Goal</div>
<div id="c27" class="big" style="left:736.7px;top:1105.9px;font-size:24px;letter-spacing:0.25px;">Awareness</div>
<div id="c28" class="big" style="left:1108.8px;top:1105.5px;font-size:24px;letter-spacing:-0.14px;">Discover</div>
<div id="c29" class="big" style="left:1604px;top:1071.3px;font-size:24px;letter-spacing:0.50px;">Register for Internet Bank getting</div>
<div id="c30" class="big" style="left:1604px;top:1103.7px;font-size:24px;letter-spacing:0.36px;">help from a local branch</div>
<div id="c31" class="big" style="left:2306.5px;top:1105.5px;font-size:24px;letter-spacing:-1.25px;">Use</div>
<div id="c32" class="big" style="left:2725.6px;top:1093.5px;font-size:24px;letter-spacing:0.50px;">Register for Internet Bank getting</div>
<svg style="left:690.0999999999999px;top:694.3px" width="48.4" height="48.4" viewBox="0 0 48 48"><circle cx="24" cy="24" r="24" fill="#d9f4ee"/><rect x="12.5" y="15.500" width="23" height="17" rx="2" fill="none" stroke="#fff" stroke-width="2"/><path d="M13.5 17.5L24 25.5L34.500 17.5" fill="none" stroke="#fff" stroke-width="2"/></svg>
<svg style="left:755.5px;top:694.3px" width="48.4" height="48.4" viewBox="0 0 48 48"><circle cx="24" cy="24" r="24" fill="#d9f4ee"/><rect x="17.5" y="13" width="13" height="22.5" rx="2.5" fill="none" stroke="#fff" stroke-width="2"/><path d="M22 32.500H26" stroke="#fff" stroke-width="1.600" fill="none"/></svg>
<svg style="left:821.8px;top:695.1999999999999px" width="48.4" height="48.4" viewBox="0 0 48 48"><circle cx="24" cy="24" r="24" fill="#d9f4ee"/><rect x="12.5" y="14" width="23" height="15.500" rx="1.5" fill="none" stroke="#fff" stroke-width="2"/><path d="M24 29.5V34M18.5 35H29.500" stroke="#fff" stroke-width="2" fill="none"/></svg>
<div class="box" style="left:684px;top:779.7px;width:202px;height:107.3px;background:#dbe5fb;font-size:15.7px;line-height:21.6px;letter-spacing:0.48px;color:#f4f6fd"><div style="position:relative;top:0px"><span id="c33s">Receive information about</span><br>Internet Banking via<br>different platform</div></div>
<div class="box" style="left:1103px;top:733px;width:189.5px;height:95px;background:#dbe5fb;font-size:15.7px;line-height:20.2px;letter-spacing:0.48px;color:#f4f6fd"><div style="position:relative;top:0px"><span id="c34s">Research what can</span><br>Internet Banking do</div></div>
<div class="box" style="left:1450.5px;top:685px;width:143.2px;height:84.4px;background:#cdd0ed;font-size:15.7px;line-height:21.6px;letter-spacing:0.48px;color:#f4f6fd"><div style="position:relative;top:0px"><span id="c35s">Enter customer</span><br>details</div></div>
<div class="box" style="left:1686px;top:720px;width:190.7px;height:96px;background:#cdd0ed;font-size:15.7px;line-height:21.6px;letter-spacing:0.48px;color:#f4f6fd"><div style="position:relative;top:2.5px"><span id="c36s">Enter personal details</span><br>and pick a passwoard</div></div>
<div class="box" style="left:1999.4px;top:661.5px;width:142.6px;height:84.1px;background:#cdd0ed;font-size:15.7px;line-height:21.6px;letter-spacing:0.48px;color:#f4f6fd"><div style="position:relative;top:1.7px"><span id="c37s">Confirm and</span><br>complete<br>registration</div></div>
<div class="box" style="left:2252.5px;top:762px;width:143.5px;height:96px;background:#cdd0ed;font-size:15.7px;line-height:21.6px;letter-spacing:0.48px;color:#f4f6fd"><div style="position:relative;top:0px"><span id="c38s">Login to Internat</span><br>Bank</div></div>
<div class="box" style="left:2541.8px;top:826px;width:143.2px;height:84.7px;background:#e1d1f1;font-size:15.7px;line-height:21.6px;letter-spacing:0.48px;color:#f4f6fd"><div style="position:relative;top:1.5px"><span id="c39s">Enter customer</span><br>details</div></div>
<div class="abs" style="left:2866px;top:713px;width:40px;height:97px;background:#dccbea"></div>
<svg style="left:0;top:0" width="2880" height="1400" viewBox="0 0 2880 1400"><path d="M784.8 922.2C997.1 922.2 973.1 703.4 1185.4 703.4M1522 792.2C1663.2 792.2 1628.5 863 1769.7 863M1769.7 863C1941.5 863 1910.2 773.8 2082 773.8M2082 773.8C2218.4 773.8 2193.6 721 2330 721" fill="none" stroke="#f5be6c" stroke-width="8.5"/><path d="M1185.4 703.4L1522 792.2" fill="none" stroke="#f5be6c" stroke-width="8.5" stroke-dasharray="24 6" stroke-dashoffset="6.5"/><path d="M0 0L-26 -11.500L-26 11.5Z" fill="#f5be6c" transform="translate(1177.4 704) rotate(-3)"/><path d="M0 0L-18 -10.500L-18 10.5Z" fill="#f5be6c" transform="translate(1517 790.9) rotate(14.7)"/><path d="M0 0L-26 -11.500L-26 11.5Z" fill="#f5be6c" transform="translate(1761.5 862.7) rotate(3)"/><path d="M0 0L-26 -11.500L-26 11.5Z" fill="#f5be6c" transform="translate(2074 773.8) rotate(-3)"/><path d="M0 0L-26 -11.500L-26 11.5Z" fill="#f5be6c" transform="translate(2322 721) rotate(-3)"/><circle cx="784.8" cy="922.2" r="12.6" fill="#f5be6c"/><circle cx="784.8" cy="922.2" r="9" fill="#4678e6"/><circle cx="1185.4" cy="703.4" r="12.6" fill="#f5be6c"/><circle cx="1185.4" cy="703.4" r="9" fill="#4678e6"/><path d="M1185.4 703.4L1198.9 706.9599999999999" stroke="#f5be6c" stroke-width="8.5" fill="none"/><circle cx="1522" cy="792.2" r="12.6" fill="#f5be6c"/><circle cx="1522" cy="792.2" r="9" fill="#0a18b0"/><path d="M1512 787.7L1518 792.2L1512 796.7Z" fill="#f5be6c"/><path d="M1532 788.7L1527.5 792.2L1532 795.7Z" fill="#f5be6c"/><circle cx="1769.7" cy="863" r="12.6" fill="#f5be6c"/><circle cx="1769.7" cy="863" r="9" fill="#0a18b0"/><path d="M1759.7 858.5L1765.7 863L1759.7 867.5Z" fill="#f5be6c"/><path d="M1779.7 859.5L1775.2 863L1779.7 866.5Z" fill="#f5be6c"/><circle cx="2082" cy="773.8" r="12.6" fill="#f5be6c"/><circle cx="2082" cy="773.8" r="9" fill="#0a18b0"/><path d="M2072 769.3L2078 773.8L2072 778.3Z" fill="#f5be6c"/><path d="M2092 770.3L2087.5 773.8L2092 777.3Z" fill="#f5be6c"/><circle cx="2330" cy="721" r="12.6" fill="#f5be6c"/><circle cx="2330" cy="721" r="9" fill="#0a18b0"/><path d="M2607 945C2670 945 2722 906.6 2762 877.6" fill="none" stroke="#e3e3e6" stroke-width="2"/><circle cx="2607" cy="945" r="13" fill="#e1d1f1"/></svg>
<div class="para" style="left:661.4px;top:1190.6px;font-size:17.6px;line-height:26.2px;letter-spacing:0.74px;"><span style="display:inline-block;background:rgba(255,255,255,.88);box-shadow:0 0 0 10px rgba(255,255,255,.88)"><span id="c40s">Your users begin by just learning</span><br>about the Internet Banking</span></div>
<div class="para" style="left:1050px;top:1181.2px;font-size:17.6px;line-height:25.5px;letter-spacing:0.81px;"><span style="display:inline-block;background:rgba(255,255,255,.88);box-shadow:0 0 0 10px rgba(255,255,255,.88)"><span id="c41s">Your users conducting research to</span><br>expand their knowledge of what<br>Internet Banking can do.</span><br>&nbsp;<br>The primary goal is to understand<br>the differences of Internet Banking,<br>and make the final choice</div>
<div class="para" style="left:1433.7px;top:1175.9px;font-size:17.6px;line-height:24px;letter-spacing:0.77px;"><span style="display:inline-block;background:rgba(255,255,255,.88);box-shadow:0 0 0 10px rgba(255,255,255,.88)"><span id="c42s">Confirm existing</span><br>customer</span></div>
<div class="para" style="left:1433.7px;top:1259.5px;font-size:17.6px;line-height:25.5px;letter-spacing:0.77px;"><span style="display:inline-block;background:rgba(255,255,255,.88);box-shadow:0 0 0 10px rgba(255,255,255,.88)"><span id="c43s">At this point, the users</span><br>have made the decision<br>to register IB.</span><br>&nbsp;<br>Now they focus on going<br>through the process</div>
<div class="para" style="left:1705.5px;top:1175.9px;font-size:17.6px;line-height:24px;letter-spacing:0.77px;"><span style="display:inline-block;background:rgba(255,255,255,.88);box-shadow:0 0 0 10px rgba(255,255,255,.88)"><span id="c44s">Capture user</span><br>information</span></div>
<div class="para" style="left:2017.3px;top:1175.9px;font-size:17.6px;line-height:24px;letter-spacing:0.77px;"><span style="display:inline-block;background:rgba(255,255,255,.88);box-shadow:0 0 0 10px rgba(255,255,255,.88)"><span id="c45s">Complete the</span><br>registration</span></div>
<div class="para" style="left:1699.5px;top:1259.7px;font-size:17.6px;line-height:25px;letter-spacing:0.77px;"><span style="display:inline-block;background:rgba(255,255,255,.88);box-shadow:0 0 0 10px rgba(255,255,255,.88)"><span id="c46s">Your users are conducting the registration process.</span></span><br>&nbsp;<br>Their primary goal is complete the test in a simple and<br>easy way without spending to much time.</div>
<div class="para" style="left:2230.6px;top:1171.4px;font-size:17.6px;line-height:25.5px;letter-spacing:0.77px;"><span style="display:inline-block;background:rgba(255,255,255,.88);box-shadow:0 0 0 10px rgba(255,255,255,.88)"><span id="c47s">At this stage, your</span><br>users have<br>completed the<br>registration already.<br>They are expecting<br>to be able to</span></div>
<div class="para" style="left:2471.7px;top:1175.9px;font-size:17.6px;line-height:24px;letter-spacing:0.77px;"><span style="display:inline-block;background:rgba(255,255,255,.88);box-shadow:0 0 0 10px rgba(255,255,255,.88)"><span id="c48s">Confirm existing</span><br>customer</span></div>
<div class="para" style="left:2471.7px;top:1259.2px;font-size:17.6px;line-height:25.5px;letter-spacing:0.77px;"><span style="display:inline-block;background:rgba(255,255,255,.88);box-shadow:0 0 0 10px rgba(255,255,255,.88)"><span id="c49s">At this point, the users</span><br>have made the decision<br>to register IB.</span><br>&nbsp;<br>Now they focus on going<br>through the process</div>
<div class="para" style="left:2814.2px;top:1170.4px;font-size:17.6px;line-height:24px;letter-spacing:0.77px;"><span style="display:inline-block;background:rgba(255,255,255,.88);box-shadow:0 0 0 10px rgba(255,255,255,.88)"><span id="c50s">Capture user</span><br>information</span></div>
<div class="para" style="left:2760.7px;top:1259.4px;font-size:17.6px;line-height:25px;letter-spacing:0.77px;"><span style="display:inline-block;background:rgba(255,255,255,.88);box-shadow:0 0 0 10px rgba(255,255,255,.88)"><span id="c51s">Your users are conducting the registration process.</span></span><br>&nbsp;<br>Their primary goal is complete the test in a simple and<br>easy way without spending to much time.</div>
</div>
<div class="card" style="left:16px;top:16px;width:805px;height:100px"></div>
<svg style="left:42px;top:42px" width="48" height="48" viewBox="0 0 48 48" ><path d="M8 14H40M8 24H40M8 34H40" stroke="#1c1f2b" stroke-width="4" stroke-linecap="round" fill="none"/></svg>
<svg style="left:114px;top:46px" width="40" height="40" viewBox="0 0 40 40" ><circle cx="20" cy="20" r="20" fill="#0a18b4"/><path d="M26.800 13.2L15 25" stroke="#fff" stroke-width="4.2" stroke-linecap="round" fill="none"/><path d="M12 17.600V28H22.400Z" fill="#fff"/></svg>
<div class="t" style="left:167.5px;top:52.6px;font-size:26.2px;color:#0a18b4;letter-spacing:0;-webkit-text-stroke:1.05px #0a18b4">Check In</div>
<svg style="left:296px;top:49px" width="34" height="34" viewBox="0 0 34 34" ><circle cx="17" cy="17" r="15" fill="none" stroke="#757575" stroke-width="3.3"/><path d="M17 15.2V24.6" stroke="#757575" stroke-width="3.3" fill="none"/><rect x="15.35" y="8.5" width="3.3" height="3.500" fill="#757575"/></svg>
<div class="abs" style="left:359px;top:40px;width:2px;height:52px;background:#d6d6d6"></div>
<svg style="left:387px;top:42px" width="48" height="48" viewBox="0 0 24 24" ><path d="M12.5 8c-2.65 0-5.05.99-6.9 2.6L3.71 8.71C3.08 8.08 2 8.52 2 9.41V15c0 .55.45 1 1 1h5.59c.89 0 1.34-1.08.71-1.71l-1.91-1.91c1.39-1.16 3.16-1.88 5.12-1.88 3.16 0 5.89 1.84 7.19 4.5.27.56.91.84 1.5.64.71-.23 1.07-1.04.75-1.72C20.23 10.42 16.65 8 12.5 8z" fill="#bdbdbd"/></svg>
<svg style="left:459px;top:42px" width="48" height="48" viewBox="0 0 24 24" ><path d="M12.5 8c-2.65 0-5.05.99-6.9 2.6L3.71 8.71C3.08 8.08 2 8.52 2 9.41V15c0 .55.45 1 1 1h5.59c.89 0 1.34-1.08.71-1.71l-1.91-1.91c1.39-1.16 3.16-1.88 5.12-1.88 3.16 0 5.89 1.84 7.19 4.5.27.56.91.84 1.5.64.71-.23 1.07-1.04.75-1.72C20.23 10.42 16.65 8 12.5 8z" fill="#bdbdbd" transform="translate(24 0) scale(-1 1)"/></svg>
<svg style="left:531px;top:42px" width="48" height="48" viewBox="0 0 24 24" ><path d="M2.5 5.5C2.5 6.33 3.17 7 4 7h3.5v10.5c0 .83.67 1.5 1.5 1.5s1.5-.67 1.5-1.5V7H14c.83 0 1.5-.67 1.5-1.5S14.83 4 14 4H4c-.83 0-1.5.67-1.5 1.5zM20 9h-6c-.83 0-1.5.67-1.5 1.5S13.17 12 14 12h1.5v5.5c0 .83.67 1.5 1.5 1.5s1.5-.67 1.5-1.5V12H20c.83 0 1.5-.67 1.5-1.5S20.83 9 20 9z" fill="#1c1f2b"/></svg>
<svg style="left:603px;top:42px" width="48" height="48" viewBox="0 0 48 48" ><rect x="4.2" y="4.2" width="12.4" height="12.4" rx="2.2" fill="none" stroke="#1c1f2b" stroke-width="3.4"/><rect x="31.6" y="31.6" width="12.4" height="12.4" rx="2.2" fill="none" stroke="#1c1f2b" stroke-width="3.4"/><path d="M17 17L31 31" stroke="#1c1f2b" stroke-width="3.6" fill="none"/></svg>
<svg style="left:675px;top:42px" width="48" height="48" viewBox="0 0 24 24" ><path d="M18 4V3c0-.55-.45-1-1-1H5c-.55 0-1 .45-1 1v4c0 .55.45 1 1 1h12c.55 0 1-.45 1-1V6h1v4H9v11c0 .55.45 1 1 1h2c.55 0 1-.45 1-1v-9h8V4h-3z" fill="#bdbdbd"/></svg>
<svg style="left:747px;top:42px" width="48" height="48" viewBox="0 0 24 24" ><path d="M15.5 14h-.79l-.28-.27c1.2-1.4 1.82-3.31 1.48-5.34-.47-2.78-2.79-5-5.59-5.34-4.23-.52-7.79 3.04-7.27 7.27.34 2.8 2.56 5.12 5.34 5.59 2.03.34 3.94-.28 5.34-1.48l.27.28v.79l4.25 4.25c.41.41 1.08.41 1.49 0 .41-.41.41-1.08 0-1.49L15.5 14zm-6 0C7.01 14 5 11.99 5 9.5S7.01 5 9.5 5 14 7.01 14 9.5 11.99 14 9.5 14z" fill="#1c1f2b"/></svg>
<div class="card" style="left:16px;top:132px;width:112px;height:604px"></div>
<svg style="left:52px;top:162px" width="40" height="40" viewBox="0 0 40 40" ><circle cx="14" cy="13.8" r="11.9" fill="none" stroke="#1c1f2b" stroke-width="4"/><path d="M32.3 14.3H34.8Q37.8 14.3 37.8 17.3V34.6Q37.8 37.6 34.8 37.6H17.5Q14.5 37.6 14.5 34.6V32.2" fill="none" stroke="#1c1f2b" stroke-width="4"/></svg>
<svg style="left:52px;top:246px" width="40" height="40" viewBox="0 0 40 40" ><path d="M2 2V38" fill="none" stroke="#1c1f2b" stroke-width="4" stroke-linecap="round" stroke-linejoin="round"/><path d="M11.5 12.5H36.5M11.5 27.5H24.500" fill="none" stroke="#1c1f2b" stroke-width="6" stroke-linecap="round"/></svg>
<svg style="left:51px;top:334px" width="42" height="30" viewBox="0 0 42 30" ><path d="M1 3.5Q11 -1 21 4.5Q31 -1 41 3.5V26.5Q31 22.5 21 28Q11 22.5 1 26.5Z" fill="#1c1f2b"/><circle cx="10" cy="10.5" r="5.2" fill="#fff"/><path d="M12.5 20.5L16.2 12.8L17.2 21.8Z" fill="#fff"/><path d="M26 9.5Q31 7.3 36 8.2M26 14Q31 11.8 36 12.7M26 18.5Q31 16.3 36 17.2M26 23Q31 20.8 36 21.7" stroke="#fff" stroke-width="2" fill="none"/></svg>
<svg style="left:52px;top:415px" width="40" height="38" viewBox="0 0 40 38" ><path d="M4.5 2H35.5Q38 2 38 4.5V27.5Q38 30 35.5 30H9L2 36.5V4.5Q2 2 4.5 2Z" fill="none" stroke="#1c1f2b" stroke-width="4" stroke-linecap="round" stroke-linejoin="round"/><path d="M10 10H30M10 16H30M10 22H24" stroke="#1c1f2b" stroke-width="3" stroke-linecap="round" fill="none"/></svg>
<svg style="left:52px;top:500px" width="40" height="36" viewBox="0 0 40 36" ><path d="M10.5 3H33M10.5 11.5H33M10.5 20H15" stroke="#1c1f2b" stroke-width="3.6" stroke-linecap="round" fill="none"/><circle cx="2.6" cy="3" r="2.1" fill="#1c1f2b"/><circle cx="2.6" cy="11.5" r="2.1" fill="#1c1f2b"/><circle cx="2.6" cy="20" r="2.1" fill="#1c1f2b"/><circle cx="29" cy="25.5" r="10" fill="#1c1f2b"/><path d="M29 24V31" stroke="#fff" stroke-width="2.6" fill="none"/><circle cx="29" cy="20.3" r="1.5" fill="#fff"/></svg>
<svg style="left:52px;top:584px" width="40" height="36" viewBox="0 0 40 36" ><path d="M2 18.5H12Q17 18.5 20 23.5Q24 30.5 34 30.5" fill="none" stroke="#1c1f2b" stroke-width="4.400" stroke-linecap="round"/><path d="M29 23.5L37 30.5L29 37" fill="none" stroke="#1c1f2b" stroke-width="4.6" stroke-linecap="round" stroke-linejoin="round"/><path d="M21 12.500L24.5 9.8M29 8L31 7.5" fill="none" stroke="#1c1f2b" stroke-width="4.6" stroke-linecap="round"/><path d="M29.5 1.800L37 7.5L30 13.6" fill="none" stroke="#1c1f2b" stroke-width="4.600" stroke-linecap="round" stroke-linejoin="round"/></svg>
<div class="t" style="left:50px;top:669.4px;font-size:34.5px;letter-spacing:-2px;color:#1c1f2b;transform-origin:0 0;transform:scaleX(.845);-webkit-text-stroke:.5px #1c1f2b">123</div>
<div class="card" style="left:140px;top:134px;width:551px;height:253px"></div>
<svg style="left:170px;top:167px" width="28" height="32" viewBox="0 0 28 32" ><rect x=".8" y="17.7" width="6.1" height="14.1" fill="#0a1250"/><rect x="11.500" y="19" width="5.5" height="12.8" fill="#0a1250"/><rect x="22" y="12.1" width="5" height="19.7" fill="#0a1250"/><path d="M.4 14.5L8.600 6.600L14 12.8L25.9 1.4" stroke="#0a1250" stroke-width="2.2" fill="none"/><path d="M20.9 .8H26.8V5.800" stroke="#0a1250" stroke-width="2.200" fill="none"/></svg>
<div class="t b" style="left:217px;top:175px;font-size:24px;color:#0a1250;letter-spacing:.43px">Metrics Explorer</div>
<svg style="left:584.4px;top:173.5px" width="13" height="24.3" viewBox="0 0 13 24.3" ><path d="M1.5 1.5L6.5 6.8L11.5 1.5M1.5 22.8L6.5 17.5L11.5 22.8" fill="none" stroke="#6e7287" stroke-width="3" stroke-linecap="round" stroke-linejoin="round"/></svg>
<svg style="left:629.4px;top:176.3px" width="19.2" height="19.2" viewBox="0 0 19.2 19.2" ><path d="M0 0L19.2 19.2M19.2 0L0 19.2" fill="none" stroke="#6e7287" stroke-width="3" stroke-linecap="round"/></svg>
<div class="t b" style="left:169px;top:276.3px;font-size:22.5px;color:#616161;letter-spacing:.2px;transform-origin:0 100%;transform:scaleY(1.07)">METRIC</div>
<div class="sel" style="left:168px;top:311.3px;width:232px;height:47.6px"></div>
<div class="t" style="left:185px;top:323.9px;font-size:24px;letter-spacing:.39px">pm distan...</div>
<svg style="left:366.5px;top:330.3px" width="14.8" height="8" viewBox="0 0 14.8 8" ><path d="M0 0L7.4 8L14.8 0" fill="none" stroke="#616161" stroke-width="3.2" stroke-linecap="round" stroke-linejoin="round"/></svg>
<div class="sel" style="left:416px;top:311.3px;width:179px;height:47.6px"></div>
<div class="t" style="left:432.4px;top:323.9px;font-size:24px;letter-spacing:-.41px">Sum (SUM)</div>
<svg style="left:563.7px;top:330.3px" width="14.8" height="8" viewBox="0 0 14.8 8" ><path d="M0 0L7.4 8L14.8 0" fill="none" stroke="#616161" stroke-width="3.2" stroke-linecap="round" stroke-linejoin="round"/></svg>
<svg style="left:622px;top:318.4px" width="30" height="30" viewBox="0 0 30 30" ><path d="M15 2.2V27.8M2.2 15H27.8" stroke="#4678e6" stroke-width="4.4" stroke-linecap="round" fill="none"/></svg>
<div class="card" style="left:2530px;top:16px;width:334px;height:100px"></div>
<svg style="left:2564px;top:50px" width="32" height="32" viewBox="0 0 32 32" ><rect x="0" y="0" width="8" height="8" fill="#1c1f2b"/><rect x="12" y="0" width="8" height="8" fill="#1c1f2b"/><rect x="24" y="0" width="8" height="8" fill="#1c1f2b"/><rect x="0" y="12" width="8" height="8" fill="#1c1f2b"/><rect x="12" y="12" width="8" height="8" fill="#1c1f2b"/><rect x="24" y="12" width="8" height="8" fill="#1c1f2b"/><rect x="0" y="24" width="8" height="8" fill="#1c1f2b"/><rect x="12" y="24" width="8" height="8" fill="#1c1f2b"/><rect x="24" y="24" width="8" height="8" fill="#1c1f2b"/></svg>
<div class="abs" style="left:2630px;top:40px;width:2px;height:52px;background:#d6d6d6"></div>
<svg style="left:2666px;top:46px" width="32" height="40" viewBox="0 0 32 40" ><path d="M5 2H19L30 13V35Q30 38 27 38H5Q2 38 2 35V5Q2 2 5 2Z" fill="none" stroke="#1c1f2b" stroke-width="4" stroke-linecap="round" stroke-linejoin="round"/><path d="M18 2.5L29.5 14H18Z" fill="#1c1f2b"/><path d="M14 18H10.5Q9 18 9 19.5V29.5Q9 31 10.5 31H20.5Q22 31 22 29.5V26" fill="none" stroke="#1c1f2b" stroke-width="2" /><path d="M13.5 26.5L22.5 17.5M17 17H23V23" fill="none" stroke="#1c1f2b" stroke-width="2"/></svg>
<svg style="left:2730.8px;top:61.7px" width="18.4" height="9.6" viewBox="0 0 18.4 9.6" ><path d="M0 0L9.2 9.6L18.4 0" fill="none" stroke="#1c1f2b" stroke-width="4" stroke-linecap="round" stroke-linejoin="round"/></svg>
<svg style="left:2794px;top:46px" width="40" height="38" viewBox="0 0 40 38" ><path d="M5 2H35Q38 2 38 5V27Q38 30 35 30H9L2 36V5Q2 2 5 2Z" fill="none" stroke="#1c1f2b" stroke-width="4" stroke-linecap="round" stroke-linejoin="round"/></svg>
<div class="card" style="left:2216px;top:132px;width:520px;height:383px"></div>
<svg style="left:2251px;top:165px" width="26" height="33" viewBox="0 0 26 33" ><path d="M7.5 31V4M1.5 9L7.5 2.5L13.5 9" fill="none" stroke="#0a1250" stroke-width="3.6" stroke-linecap="round" stroke-linejoin="round"/><path d="M7.5 22Q8 16.5 13 16.5H22M17 10.5L23 16.5L17 22.5" fill="none" stroke="#0a1250" stroke-width="3.6" stroke-linecap="round" stroke-linejoin="round"/></svg>
<div class="t b" style="left:2293.3px;top:173px;font-size:24px;color:#0a1250;letter-spacing:.38px">Path Explorer</div>
<svg style="left:2629.4px;top:172px" width="13" height="24.3" viewBox="0 0 13 24.3" ><path d="M1.5 1.5L6.5 6.8L11.5 1.5M1.5 22.8L6.5 17.5L11.5 22.8" fill="none" stroke="#6e7287" stroke-width="3" stroke-linecap="round" stroke-linejoin="round"/></svg>
<svg style="left:2674.1px;top:174.6px" width="19.2" height="19.2" viewBox="0 0 19.2 19.2" ><path d="M0 0L19.2 19.2M19.2 0L0 19.2" fill="none" stroke="#6e7287" stroke-width="3" stroke-linecap="round"/></svg>
<div class="t b" style="left:2245px;top:244.2px;font-size:22.5px;color:#616161;letter-spacing:.2px;transform-origin:0 100%;transform:scaleY(1.07)">METRIC</div>
<div class="sel" style="left:2244px;top:279.3px;width:464px;height:47px"></div>
<div class="t" style="left:2260.6px;top:291.9px;font-size:24px;letter-spacing:.5px">Interaction Score</div>
<svg style="left:2674.4px;top:297.6px" width="14.8" height="8" viewBox="0 0 14.8 8" ><path d="M0 0L7.4 8L14.8 0" fill="none" stroke="#616161" stroke-width="3.2" stroke-linecap="round" stroke-linejoin="round"/></svg>
<div class="t" style="left:2260.6px;top:363.7px;font-size:24px;letter-spacing:.5px">Online</div>
<div class="t" style="left:2600px;width:58px;text-align:right;top:363.7px;font-size:24px">0</div>
<div class="abs" style="left:2244px;top:409px;width:442px;height:62px;border-radius:9px;background:#0a18b0"></div>
<div class="t" style="left:2260.6px;top:428.6px;font-size:24px;letter-spacing:.39px;color:#fff">In-Branch</div>
<div class="t" style="left:2600px;width:58px;text-align:right;top:428.600px;font-size:24px;color:#fff">8</div>
<div class="abs" style="left:2692px;top:349px;width:12px;height:114px;border-radius:6px;background:#c1c1c1"></div>
<div class="card" style="left:2752px;top:132px;width:112px;height:772px"></div>
<svg style="left:2792px;top:162px" width="32" height="40" viewBox="0 0 32 40" ><path d="M5 2H19L30 13V35Q30 38 27 38H5Q2 38 2 35V5Q2 2 5 2Z" fill="none" stroke="#1c1f2b" stroke-width="4" stroke-linecap="round" stroke-linejoin="round"/><path d="M18 2.5L29.5 14H18Z" fill="#1c1f2b"/></svg>
<svg style="left:2788px;top:250px" width="42" height="38" viewBox="0 0 42 38" ><path d="M39 2H4Q2 2 2 4V28Q2 30 4 30H13" fill="none" stroke="#1c1f2b" stroke-width="4" stroke-linecap="round" stroke-linejoin="round"/><path d="M9.800 11.800H16.2M9.8 19.400H16.2" fill="none" stroke="#1c1f2b" stroke-width="3.6" stroke-linecap="round" stroke-linejoin="round"/><circle cx="36.100" cy="11.8" r="4.2" fill="none" stroke="#1c1f2b" stroke-width="3.6" stroke-linecap="round" stroke-linejoin="round"/><circle cx="23.900" cy="31.6" r="4.200" fill="none" stroke="#1c1f2b" stroke-width="3.6" stroke-linecap="round" stroke-linejoin="round"/><path d="M36.1 16.5V20.600Q36.1 21.700 35 21.7H25.100Q23.900 21.7 23.9 22.9V27" fill="none" stroke="#1c1f2b" stroke-width="3.4" stroke-linecap="round" stroke-linejoin="round"/></svg>
<svg style="left:2789px;top:329px" width="38" height="40" viewBox="0 0 38 40" ><path d="M14 38H5Q2 38 2 35V5Q2 2 5 2H19L30 13" fill="none" stroke="#1c1f2b" stroke-width="4" stroke-linecap="round" stroke-linejoin="round"/><path d="M18 2.5L29.5 14H18Z" fill="#1c1f2b"/><path d="M9.5 21.5H15M9.5 29H12.5" fill="none" stroke="#1c1f2b" stroke-width="3.4" stroke-linecap="round" stroke-linejoin="round"/><circle cx="28" cy="29" r="10" fill="#1c1f2b"/><path d="M28 28V34.5" stroke="#fff" stroke-width="2.6" fill="none"/><circle cx="28" cy="24" r="1.6" fill="#fff"/></svg>
<svg style="left:2788px;top:415px" width="40" height="38" viewBox="0 0 40 38" ><path d="M33.5 1.5L38 6Q38.8 7 38 8L21.5 24.5L15 18L31.5 1.5Q32.5 .8 33.5 1.5Z" fill="#1c1f2b"/><path d="M13.5 22Q17.5 26 14.5 31.5Q10.5 37.5 1 34.5Q5 32.5 5.5 28Q6 22.5 13.5 22Z" fill="#1c1f2b"/><circle cx="10.8" cy="28.6" r="2.6" fill="#fff"/></svg>
<svg style="left:2788px;top:497px" width="41" height="42" viewBox="0 0 41 42" ><path d="M15.5 12H36Q38.5 12 38.5 14.5V30L29.5 39.5H15.5Q13 39.5 13 37V14.5Q13 12 15.5 12Z" fill="none" stroke="#1c1f2b" stroke-width="4" stroke-linecap="round" stroke-linejoin="round"/><path d="M28 40V32Q28 30 30 30H38.5Z" fill="#1c1f2b"/><path d="M6.5 33L2.5 7.5Q2.2 5.5 4.2 5.2L27.5 2Q29.3 1.8 29.8 3.8L30.3 6.5" fill="none" stroke="#1c1f2b" stroke-width="3.4" stroke-linecap="round" stroke-linejoin="round"/></svg>
<svg style="left:2788px;top:591px" width="40" height="22" viewBox="0 0 40 22" ><path d="M16 2H11Q2 2 2 11Q2 20 11 20H16M24 2H29Q38 2 38 11Q38 20 29 20H24M13 11H27" fill="none" stroke="#1c1f2b" stroke-width="4" stroke-linecap="round" stroke-linejoin="round"/></svg>
<svg style="left:2789px;top:667px" width="38" height="38" viewBox="0 0 38 38" ><path d="M17 33H5Q2 33 2 30V5Q2 2 5 2H31Q34 2 34 5V14" fill="none" stroke="#1c1f2b" stroke-width="4" stroke-linecap="round" stroke-linejoin="round"/><path d="M9.500 10.5H25M9.5 17.5H21M9.5 24.5H15" fill="none" stroke="#1c1f2b" stroke-width="3.4" stroke-linecap="round" stroke-linejoin="round"/><circle cx="28" cy="28" r="5" fill="none" stroke="#1c1f2b" stroke-width="3.6"/><path d="M28 19.5V22M28 34V36.5M20.6 23.7L22.8 25M33.2 31L35.400 32.3M20.6 32.3L22.8 31M33.2 25L35.4 23.7" stroke="#1c1f2b" stroke-width="4.4" stroke-linecap="round" fill="none"/></svg>
<svg style="left:2790px;top:752px" width="36" height="36" viewBox="0 0 36 36" ><rect x="10" y="10" width="16" height="16" rx="1.5" fill="none" stroke="#1c1f2b" stroke-width="4" stroke-linecap="round" stroke-linejoin="round"/><circle cx="10" cy="2.5" r="2.1" fill="#1c1f2b"/><circle cx="26" cy="2.5" r="2.1" fill="#1c1f2b"/><circle cx="10" cy="33.5" r="2.1" fill="#1c1f2b"/><circle cx="26" cy="33.5" r="2.1" fill="#1c1f2b"/><circle cx="2.5" cy="10" r="2.1" fill="#1c1f2b"/><circle cx="2.5" cy="26" r="2.1" fill="#1c1f2b"/><circle cx="33.5" cy="10" r="2.1" fill="#1c1f2b"/><circle cx="33.5" cy="26" r="2.1" fill="#1c1f2b"/></svg>
<svg style="left:2790px;top:832px" width="36" height="42" viewBox="0 0 36 42" ><circle cx="18" cy="24" r="15.500" fill="none" stroke="#1c1f2b" stroke-width="4" stroke-linecap="round" stroke-linejoin="round"/><path d="M13.5 2.2H22.5" fill="none" stroke="#1c1f2b" stroke-width="4" stroke-linecap="round" stroke-linejoin="round"/><path d="M18 16V25" fill="none" stroke="#1c1f2b" stroke-width="3.6" stroke-linecap="round" stroke-linejoin="round"/><path d="M29.500 12L32 9.5" fill="none" stroke="#1c1f2b" stroke-width="4" stroke-linecap="round" stroke-linejoin="round"/></svg>
<div class="abs" style="left:2867px;top:487px;width:11px;height:422px;border-radius:5.5px;background:#c1c1c1"></div>
<div class="card" style="left:2138px;top:1284px;width:726px;height:100px"></div>
<div class="abs" style="left:2154px;top:1300px;width:68px;height:68px;border-radius:50%;background:#cfd1f0"></div>
<div class="abs" style="left:2238px;top:1300px;width:68px;height:68px;border-radius:50%;background:#cfd1f0"></div>
<div class="abs" style="left:2322px;top:1300px;width:68px;height:68px;border-radius:50%;background:#cfd1f0"></div>
<svg style="left:2170px;top:1316px" width="36" height="36" viewBox="0 0 36 36" ><rect x="2" y="2" width="32" height="32" rx="3" fill="none" stroke="#0a18b4" stroke-width="4"/><path d="M2 23.800H34" stroke="#0a18b4" stroke-width="4" fill="none"/><path d="M9.9 8.7H26.100L18 17Z" fill="#0a18b4"/></svg>
<svg style="left:2259px;top:1316px" width="30" height="37" viewBox="0 0 30 37" ><path d="M8.85 36V4M2.300 10.400L8.85 3.200L15.400 10.4" fill="none" stroke="#0a18b4" stroke-width="4" stroke-linecap="butt" stroke-linejoin="miter"/><path d="M8.85 31Q8.85 19.700 18.5 19.7H26M20.200 12.6L27.4 19.7L20.2 26.800" fill="none" stroke="#0a18b4" stroke-width="4" stroke-linecap="butt" stroke-linejoin="miter"/></svg>
<svg style="left:2340px;top:1318px" width="32" height="32" viewBox="0 0 32 32" ><rect x="0" y="16.500" width="8" height="15.500" fill="#0a18b4"/><rect x="12" y="0" width="8" height="32" fill="#0a18b4"/><rect x="24" y="10.5" width="8" height="21.500" fill="#0a18b4"/></svg>
<div class="abs" style="left:2309.500px;top:1285.5px;width:95px;height:95px;border-radius:50%;border:5px solid #e8421d"></div>
<div class="abs" style="left:2406px;top:1308px;width:2px;height:52px;background:#d6d6d6"></div>
<svg style="left:2444px;top:1320px" width="28" height="28" viewBox="0 0 28 28" ><path d="M1 14H27" stroke="#1c1f2b" stroke-width="4" fill="none"/></svg>
<div class="t" style="left:2524.5px;top:1322.8px;font-size:27px;color:#111;letter-spacing:0">49%</div>
<svg style="left:2632px;top:1320px" width="28" height="28" viewBox="0 0 28 28" ><path d="M1 14H27M14 1V27" stroke="#1c1f2b" stroke-width="4" fill="none"/></svg>
<svg style="left:2710px;top:1314px" width="40" height="40" viewBox="0 0 40 40" ><path d="M1.5 38.5L15 25" stroke="#1c1f2b" stroke-width="4.2" fill="none"/><path d="M5.500 21.600H19.8V35.500Z" fill="#1c1f2b"/><path d="M38.600 1.800L25 15" stroke="#1c1f2b" stroke-width="4.2" fill="none"/><path d="M20.4 4.800V19.25H35.200Z" fill="#1c1f2b"/></svg>
<div class="abs" style="left:2809.1px;top:1317.3999999999999px;width:8.8px;height:8.8px;border-radius:50%;background:#1c1f2b"></div>
<div class="abs" style="left:2809.1px;top:1329.6px;width:8.8px;height:8.8px;border-radius:50%;background:#1c1f2b"></div>
<div class="abs" style="left:2809.1px;top:1341.8px;width:8.8px;height:8.8px;border-radius:50%;background:#1c1f2b"></div>
<div class="abs" style="left:2256px;top:1396px;width:200px;height:46px;border-radius:8px;background:#6e6e6e;z-index:5"></div>
<div class="t" style="left:2273px;top:1409.4px;font-size:22px;color:#fff;letter-spacing:.49px;z-index:6">Metrics Explorer</div>
<div class="abs" style="left:567px;top:1386px;width:1189px;height:11px;border-radius:5.500px;background:#c1c1c1"></div>
<div class="abs" style="left:0;top:1400px;width:2880px;height:400px;background:#fff"></div>
<div class="abs" style="left:0;top:1400px;width:2880px;height:2px;background:#cdd0d9"></div>
<div class="t b" style="left:37px;top:1415px;font-size:24px;color:#0a1250;letter-spacing:.67px">Metrics</div>
<svg style="left:2845.5px;top:1417.5px" width="17.0" height="17.0" viewBox="0 0 17.0 17.0" ><path d="M0 0L17.0 17.0M17.0 0L0 17.0" fill="none" stroke="#555" stroke-width="2.6" stroke-linecap="round"/></svg>
<div class="abs" style="left:0;top:1452px;width:2880px;height:2px;background:#cdd0d9"></div>
<div class="abs" style="left:0;top:1564px;width:2880px;height:2px;background:#cdd0d9"></div>
<div class="abs" style="left:0;top:1626px;width:2880px;height:60px;background:#f4f5f7"></div>
<div class="abs" style="left:400px;top:1454px;width:2px;height:346px;background:#cdd0d9"></div>
<div class="abs" style="left:2741px;top:1454px;width:2px;height:346px;background:#cdd0d9"></div>
<div class="t b" style="left:37px;top:1494px;font-size:24px;letter-spacing:1.3px">Name</div>
<div class="abs" style="left:371.5px;top:1492.7px;width:5px;height:5px;border-radius:50%;background:#707070"></div><div class="abs" style="left:371.5px;top:1501.5px;width:5px;height:5px;border-radius:50%;background:#707070"></div><div class="abs" style="left:371.5px;top:1510.3px;width:5px;height:5px;border-radius:50%;background:#707070"></div>
<div class="t b" style="left:2763.3px;top:1492px;font-size:28px;letter-spacing:.74px">Totals</div>
<div class="abs" style="left:740px;top:1470px;width:88px;height:12px;border-radius:0 0 7px 7px;background:#4a7de8"></div>
<div class="t b" style="left:745px;top:1489px;font-size:24px;letter-spacing:0">Cancel</div>
<div class="t b" style="left:751px;top:1517.3px;font-size:24px;letter-spacing:.1px">Event...</div>
<div class="abs" style="left:1141px;top:1470px;width:88px;height:12px;border-radius:0 0 7px 7px;background:#4a7de8"></div>
<div class="t b" style="left:1146px;top:1489px;font-size:24px;letter-spacing:0">Cancel</div>
<div class="t b" style="left:1152px;top:1517.3px;font-size:24px;letter-spacing:.1px">Event...</div>
<div class="abs" style="left:1478px;top:1470px;width:88px;height:12px;border-radius:0 0 7px 7px;background:#0a18b0"></div>
<div class="t b" style="left:1483px;top:1489px;font-size:24px;letter-spacing:0">Cancel</div>
<div class="t b" style="left:1489px;top:1517.3px;font-size:24px;letter-spacing:.1px">Event...</div>
<div class="abs" style="left:1725px;top:1470px;width:88px;height:12px;border-radius:0 0 7px 7px;background:#0a18b0"></div>
<div class="t b" style="left:1730px;top:1489px;font-size:24px;letter-spacing:0">Cancel</div>
<div class="t b" style="left:1736px;top:1517.3px;font-size:24px;letter-spacing:.1px">Event...</div>
<div class="abs" style="left:2038px;top:1470px;width:88px;height:12px;border-radius:0 0 7px 7px;background:#0a18b0"></div>
<div class="t b" style="left:2043px;top:1489px;font-size:24px;letter-spacing:0">Cancel</div>
<div class="t b" style="left:2049px;top:1517.3px;font-size:24px;letter-spacing:.1px">Event...</div>
<div class="abs" style="left:2286px;top:1470px;width:88px;height:12px;border-radius:0 0 7px 7px;background:#0a18b0"></div>
<div class="t b" style="left:2291px;top:1489px;font-size:24px;letter-spacing:0">Cancel</div>
<div class="t b" style="left:2297px;top:1517.3px;font-size:24px;letter-spacing:.1px">Event...</div>
<div class="t" style="left:37px;top:1585px;font-size:24px;letter-spacing:0.45px">Interaction Score</div>
<svg style="left:311px;top:1585px" width="22" height="22" viewBox="0 0 22 22" ><circle cx="15.2" cy="6.6" r="6.2" fill="#737373"/><circle cx="4.400" cy="13.2" r="4.2" fill="#737373"/><circle cx="14.8" cy="18.6" r="2.6" fill="#737373"/></svg>
<div class="abs" style="left:371.5px;top:1584.7px;width:5px;height:5px;border-radius:50%;background:#707070"></div><div class="abs" style="left:371.5px;top:1593.5px;width:5px;height:5px;border-radius:50%;background:#707070"></div><div class="abs" style="left:371.5px;top:1602.3px;width:5px;height:5px;border-radius:50%;background:#707070"></div>
<div class="t" style="left:730px;top:1584.9px;font-size:24px;letter-spacing:0.4px">0</div>
<div class="t" style="left:1131px;top:1584.9px;font-size:24px;letter-spacing:0.4px">3</div>
<div class="t" style="left:1468px;top:1584.9px;font-size:24px;letter-spacing:0.4px">0</div>
<div class="t" style="left:1715px;top:1584.9px;font-size:24px;letter-spacing:0.4px">-1</div>
<div class="t" style="left:2028px;top:1584.9px;font-size:24px;letter-spacing:0.4px">2</div>
<div class="t" style="left:2276px;top:1584.9px;font-size:24px;letter-spacing:0.4px">4</div>
<div class="t" style="left:2647px;width:200px;text-align:right;top:1584.9px;font-size:24px;letter-spacing:0.1px">8</div>
<div class="t" style="left:37px;top:1645px;font-size:24px;letter-spacing:0.24px">Time Spent</div>
<svg style="left:311px;top:1645px" width="22" height="22" viewBox="0 0 22 22" ><circle cx="15.2" cy="6.6" r="6.2" fill="#737373"/><circle cx="4.400" cy="13.2" r="4.2" fill="#737373"/><circle cx="14.8" cy="18.6" r="2.6" fill="#737373"/></svg>
<div class="abs" style="left:371.5px;top:1644.7px;width:5px;height:5px;border-radius:50%;background:#707070"></div><div class="abs" style="left:371.5px;top:1653.5px;width:5px;height:5px;border-radius:50%;background:#707070"></div><div class="abs" style="left:371.5px;top:1662.3px;width:5px;height:5px;border-radius:50%;background:#707070"></div>
<div class="t" style="left:730px;top:1644.9px;font-size:24px;letter-spacing:0.4px">1 m</div>
<div class="t" style="left:1131px;top:1644.9px;font-size:24px;letter-spacing:0.4px">1 h</div>
<div class="t" style="left:1468px;top:1644.9px;font-size:24px;letter-spacing:0.4px">10 m</div>
<div class="t" style="left:1715px;top:1644.9px;font-size:24px;letter-spacing:0.4px">2 m</div>
<div class="t" style="left:2028px;top:1644.9px;font-size:24px;letter-spacing:0.4px">1 m</div>
<div class="t" style="left:2276px;top:1644.9px;font-size:24px;letter-spacing:0.4px">1 m</div>
<div class="t" style="left:2647px;width:200px;text-align:right;top:1644.9px;font-size:24px;letter-spacing:0.1px">1.25 h</div>
<div class="t" style="left:37px;top:1705px;font-size:24px;letter-spacing:-0.37px">Cost</div>
<svg style="left:311px;top:1705px" width="22" height="22" viewBox="0 0 22 22" ><circle cx="15.2" cy="6.6" r="6.2" fill="#737373"/><circle cx="4.400" cy="13.2" r="4.2" fill="#737373"/><circle cx="14.8" cy="18.6" r="2.6" fill="#737373"/></svg>
<div class="abs" style="left:371.5px;top:1704.7px;width:5px;height:5px;border-radius:50%;background:#707070"></div><div class="abs" style="left:371.5px;top:1713.5px;width:5px;height:5px;border-radius:50%;background:#707070"></div><div class="abs" style="left:371.5px;top:1722.3px;width:5px;height:5px;border-radius:50%;background:#707070"></div>
<div class="t" style="left:730px;top:1704.9px;font-size:24px;letter-spacing:-0.7px">---</div>
<div class="t" style="left:1131px;top:1704.9px;font-size:24px;letter-spacing:-0.7px">---</div>
<div class="t" style="left:1468px;top:1704.9px;font-size:24px;letter-spacing:-0.7px">---</div>
<div class="t" style="left:1715px;top:1704.9px;font-size:24px;letter-spacing:-0.7px">---</div>
<div class="t" style="left:2028px;top:1704.9px;font-size:24px;letter-spacing:-0.7px">---</div>
<div class="t" style="left:2276px;top:1704.9px;font-size:24px;letter-spacing:-0.7px">---</div>
<div class="t" style="left:2647px;width:200px;text-align:right;top:1704.9px;font-size:24px;letter-spacing:-0.7px">---</div>
</body></html>
